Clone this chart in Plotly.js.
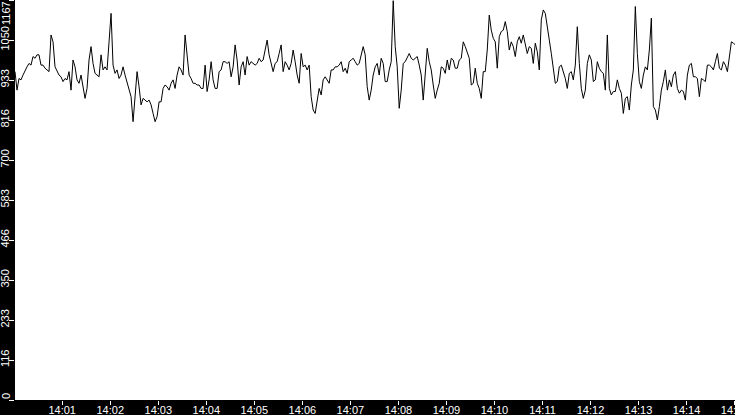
<!DOCTYPE html>
<html>
<head>
<meta charset="utf-8">
<script src="https://cdn.plot.ly/plotly-3.0.1.min.js"></script>
<style>
  html, body { margin: 0; padding: 0; background: #000; }
  #chart { width: 735px; height: 415px; }
</style>
</head>
<body>
<div id="chart"></div>
<script>
// samples every 2.5 s starting 14:00:01
const startTime = '2024-01-01 14:00:01'
const stepMs = 2500

const values = [
  958, 904, 938, 934, 948, 963, 972, 982, 977, 1002, 997, 1007, 1007, 977, 977, 968, 963, 958, 1065, 1045,
  972, 958, 948, 943, 929, 938, 934, 958, 904, 992, 972, 934, 924, 948, 909, 880, 909, 992, 1031, 982,
  953, 948, 943, 1007, 963, 972, 963, 1045, 1128, 977, 953, 963, 938, 948, 972, 948, 929, 909, 885, 812,
  890,
  958, 914, 861, 880, 875, 870, 875, 861, 836, 812, 827, 870, 870, 909, 919, 914, 904, 924, 934, 909,
  948, 972, 963, 948, 1065, 997, 948, 938, 924, 924, 919, 919, 909, 909, 977, 900, 934, 987, 934, 909,
  909, 958, 963, 987, 987, 982, 987, 943, 972, 1036, 992, 919, 972, 987, 948, 1002, 977, 987, 982, 977,
  982, 997, 987, 992, 1021, 1050, 1007, 977, 958, 982, 987, 1011, 1036, 958, 987, 977, 963, 982, 1021, 987,
  948, 924, 1011, 972, 977, 963, 977, 885, 846, 836, 875, 909, 890, 934, 943, 934, 924, 963, 963, 972,
  972, 977, 987, 958, 968, 953, 987, 992, 997, 987, 977, 982, 1007, 1031, 1007, 914, 875, 904, 948, 972,
  982, 948, 997, 982, 929, 929, 963, 987, 1165, 1031, 972, 851, 904, 982, 987, 997, 1011, 997, 992, 997,
  1002, 977, 948, 875, 963, 1026, 987, 963, 919, 880, 904, 924, 972, 968, 953, 992, 963, 997, 992, 968,
  968, 992, 997, 1045, 1031, 1016, 997, 919, 924, 968, 924, 909, 880, 958, 958, 1021, 1123, 1079, 1055, 1045,
  968, 1060, 1075, 1079, 1104, 1075, 1021, 1045, 1031, 1002, 1045, 1060, 1041, 1065, 1036, 1011, 1031, 1026, 982, 1041,
  1016, 963, 1109, 1138, 1128, 1094, 1050, 1011, 972, 924, 929, 972, 977, 958, 938, 909, 953, 958, 934, 977,
  1089, 982, 909, 880, 904, 982, 1007, 992, 929, 934, 987, 968, 958, 953, 904, 1065, 909, 890, 900, 900,
  934, 909, 895, 836, 880, 885, 846, 919, 963, 1148, 1011, 929, 909, 948, 972, 963, 1021, 1114, 856, 846,
  817, 856, 904, 929, 963, 904, 934, 914, 948, 958, 909, 895, 904, 900, 875, 948, 977, 982, 943, 943,
  938, 885, 938, 934, 929, 977, 977, 972, 963, 987, 1011, 968, 963, 987, 977, 958, 997, 1045, 1041, 1036
]

const yTickVals = [0, 116.7, 233.4, 350.1, 466.8, 583.5, 700.2, 816.9, 933.6, 1050.3, 1167]
// end labels are drawn as annotations so they can sit inside the paper
const yTickText = ['', '116', '233', '350', '466', '583', '700', '816', '933', '1050', '']

let trace = {
  x0: startTime,
  dx: stepMs,
  y: values,
  type: 'scatter',
  mode: 'lines',
  line: { color: '#000', width: 1 },
  hoverinfo: 'skip'
}

let labelFont = { family: 'Liberation Sans, Arial, sans-serif', size: 11, color: '#fff' }

let layout = {
  width: 735,
  height: 415,
  margin: { l: 15, r: 0, t: 0, b: 15, pad: 0 },
  paper_bgcolor: '#000',
  plot_bgcolor: '#fff',
  showlegend: false,
  font: labelFont,
  xaxis: {
    type: 'date',
    range: ['2024-01-01 14:00:01', '2024-01-01 14:15:00.5'],
    dtick: 60000,
    tick0: '2024-01-01 14:00:00',
    tickformat: '%H:%M',
    ticks: 'outside',
    ticklen: 4,
    tickcolor: '#fff',
    tickwidth: 1,
    ticklabelstandoff: -4,
    ticklabeloverflow: 'allow',
    showgrid: false,
    zeroline: false,
    showline: false,
    tickfont: labelFont
  },
  yaxis: {
    range: [0, 1167],
    tickvals: yTickVals,
    ticktext: yTickText,
    tickangle: -90,
    ticks: 'outside',
    ticklen: 5,
    tickcolor: '#fff',
    tickwidth: 1,
    ticklabelstandoff: -4,
    showgrid: false,
    zeroline: false,
    showline: false,
    tickfont: labelFont
  },
  annotations: [
    { text: '1167', xref: 'paper', yref: 'y', x: 0, y: 1167, xanchor: 'center', yanchor: 'top',
      xshift: -9, borderpad: 0, textangle: -90, showarrow: false, font: labelFont },
    { text: '0', xref: 'paper', yref: 'y', x: 0, y: 0, xanchor: 'center', yanchor: 'bottom',
      xshift: -9, borderpad: 0, textangle: -90, showarrow: false, font: labelFont }
  ]
}

Plotly.newPlot('chart', [trace], layout, { staticPlot: true, displayModeBar: false })
</script>
</body>
</html>
